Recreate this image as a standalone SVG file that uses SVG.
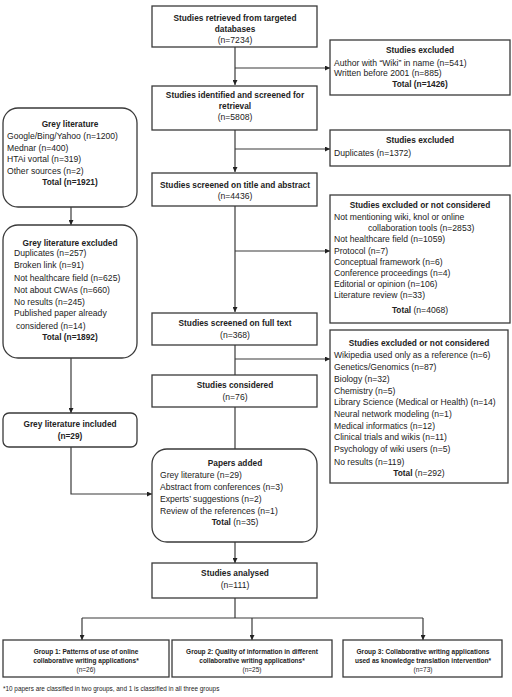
<svg xmlns="http://www.w3.org/2000/svg" width="512" height="697" viewBox="0 0 512 697">
<style>
.box{fill:#fff;stroke:#3a3a3a;stroke-width:1.3}
.t{font-family:"Liberation Sans",Arial,sans-serif;font-size:8.6px;fill:#222}
.b{font-weight:bold;font-size:8.3px}
.c{text-anchor:middle}
.g{font-family:"Liberation Sans",Arial,sans-serif;font-size:6.5px;fill:#222;text-anchor:middle}
.g.b{font-size:6.5px}
.ln{fill:none;stroke:#3a3a3a;stroke-width:1.2}
</style>
<defs>
<marker id="ah" viewBox="0 0 10 10" refX="10" refY="5" markerWidth="5" markerHeight="5" orient="auto" markerUnits="userSpaceOnUse">
<path d="M0,0L10,5L0,10z" fill="#222"/>
</marker>
</defs>
<rect width="512" height="697" fill="#fff"/>
<g id="connectors">
<path class="ln" d="M235,47V85" marker-end="url(#ah)"/>
<path class="ln" d="M235,68H330" marker-end="url(#ah)"/>
<path class="ln" d="M235,130V172" marker-end="url(#ah)"/>
<path class="ln" d="M235,149H330" marker-end="url(#ah)"/>
<path class="ln" d="M235,206V312" marker-end="url(#ah)"/>
<path class="ln" d="M235,251H330" marker-end="url(#ah)"/>
<path class="ln" d="M235,345V375"/>
<path class="ln" d="M235,359H330" marker-end="url(#ah)"/>
<path class="ln" d="M235,407V449"/>
<path class="ln" d="M71,207V225" marker-end="url(#ah)"/>
<path class="ln" d="M71,358V413" marker-end="url(#ah)"/>
<path class="ln" d="M71,447V494H152" marker-end="url(#ah)"/>
<path class="ln" d="M235,542V563" marker-end="url(#ah)"/>
<path class="ln" d="M235,598V618M82,618H423"/>
<path class="ln" d="M82,618V640" marker-end="url(#ah)"/>
<path class="ln" d="M252,618V640" marker-end="url(#ah)"/>
<path class="ln" d="M423,618V640" marker-end="url(#ah)"/>
</g>
<g id="retrieved">
<rect class="box" x="152" y="6" width="165" height="41"/>
<text class="t b c" x="235" y="21">Studies retrieved from targeted</text>
<text class="t b c" x="235" y="32">databases</text>
<text class="t c" x="235" y="43">(n=7234)</text>
</g>
<g id="identified">
<rect class="box" x="152" y="86" width="165" height="44"/>
<text class="t b c" x="235" y="98">Studies identified and screened for</text>
<text class="t b c" x="235" y="109">retrieval</text>
<text class="t c" x="235" y="120">(n=5808)</text>
</g>
<g id="title-abstract">
<rect class="box" x="152" y="173" width="165" height="33"/>
<text class="t b c" x="235" y="188">Studies screened on title and abstract</text>
<text class="t c" x="235" y="199">(n=4436)</text>
</g>
<g id="full-text">
<rect class="box" x="152" y="313" width="165" height="32"/>
<text class="t b c" x="235" y="326">Studies screened on full text</text>
<text class="t c" x="235" y="338">(n=368)</text>
</g>
<g id="considered">
<rect class="box" x="152" y="375" width="165" height="32"/>
<text class="t b c" x="235" y="388">Studies considered</text>
<text class="t c" x="235" y="400">(n=76)</text>
</g>
<g id="papers-added">
<rect class="box" x="152" y="449" width="165" height="93" rx="15"/>
<text class="t b c" x="235" y="466">Papers added</text>
<text class="t" x="160" y="478">Grey literature (n=29)</text>
<text class="t" x="160" y="490">Abstract from conferences (n=3)</text>
<text class="t" x="160" y="502">Experts’ suggestions (n=2)</text>
<text class="t" x="160" y="514">Review of the references (n=1)</text>
<text class="t c" x="235" y="525"><tspan class="b">Total</tspan> (n=35)</text>
</g>
<g id="analysed">
<rect class="box" x="152" y="563" width="165" height="35"/>
<text class="t b c" x="235" y="576">Studies analysed</text>
<text class="t c" x="235" y="588">(n=111)</text>
</g>
<g id="excluded-1">
<rect class="box" x="330" y="40" width="180" height="55"/>
<text class="t b c" x="420" y="53">Studies excluded</text>
<text class="t" x="334" y="66">Author with “Wiki” in name (n=541)</text>
<text class="t" x="334" y="76">Written before 2001 (n=885)</text>
<text class="t b c" x="420" y="87">Total (n=1426)</text>
</g>
<g id="excluded-2">
<rect class="box" x="330" y="130" width="180" height="36"/>
<text class="t b c" x="420" y="143">Studies excluded</text>
<text class="t" x="334" y="156">Duplicates (n=1372)</text>
</g>
<g id="excluded-3">
<rect class="box" x="330" y="195" width="180" height="128"/>
<text class="t b c" x="420" y="208">Studies excluded or not considered</text>
<text class="t" x="334" y="220">Not mentioning wiki, knol or online</text>
<text class="t" x="368" y="231">collaboration tools (n=2853)</text>
<text class="t" x="334" y="242">Not healthcare field (n=1059)</text>
<text class="t" x="334" y="254">Protocol (n=7)</text>
<text class="t" x="334" y="265">Conceptual framework (n=6)</text>
<text class="t" x="334" y="276">Conference proceedings (n=4)</text>
<text class="t" x="334" y="287">Editorial or opinion (n=106)</text>
<text class="t" x="334" y="298">Literature review (n=33)</text>
<text class="t c" x="420" y="313"><tspan class="b">Total</tspan> (n=4068)</text>
</g>
<g id="excluded-4">
<rect class="box" x="330" y="330" width="178" height="153"/>
<text class="t b c" x="419" y="346">Studies excluded or not considered</text>
<text class="t" x="334" y="358">Wikipedia used only as a reference (n=6)</text>
<text class="t" x="334" y="370">Genetics/Genomics (n=87)</text>
<text class="t" x="334" y="382">Biology (n=32)</text>
<text class="t" x="334" y="394">Chemistry (n=5)</text>
<text class="t" x="334" y="405">Library Science (Medical or Health) (n=14)</text>
<text class="t" x="334" y="417">Neural network modeling (n=1)</text>
<text class="t" x="334" y="429">Medical informatics (n=12)</text>
<text class="t" x="334" y="440">Clinical trials and wikis (n=11)</text>
<text class="t" x="334" y="452">Psychology of wiki users (n=5)</text>
<text class="t" x="334" y="465">No results (n=119)</text>
<text class="t c" x="419" y="476"><tspan class="b">Total</tspan> (n=292)</text>
</g>
<g id="grey-literature">
<rect class="box" x="3" y="108" width="134" height="99" rx="15"/>
<text class="t b c" x="70" y="127">Grey literature</text>
<text class="t" x="7" y="139">Google/Bing/Yahoo (n=1200)</text>
<text class="t" x="7" y="151">Mednar (n=400)</text>
<text class="t" x="7" y="162">HTAi vortal (n=319)</text>
<text class="t" x="7" y="174">Other sources (n=2)</text>
<text class="t b c" x="70" y="185">Total (n=1921)</text>
</g>
<g id="grey-excluded">
<rect class="box" x="3" y="225" width="134" height="133" rx="15"/>
<text class="t b c" x="70" y="246">Grey literature excluded</text>
<text class="t" x="14" y="256">Duplicates (n=257)</text>
<text class="t" x="14" y="268">Broken link (n=91)</text>
<text class="t" x="14" y="281">Not healthcare field (n=625)</text>
<text class="t" x="14" y="293">Not about CWAs (n=660)</text>
<text class="t" x="14" y="305">No results (n=245)</text>
<text class="t" x="14" y="316">Published paper already</text>
<text class="t" x="16" y="329">considered (n=14)</text>
<text class="t b c" x="70" y="340">Total (n=1892)</text>
</g>
<g id="grey-included">
<rect class="box" x="3" y="413" width="134" height="34" rx="6"/>
<text class="t b c" x="70" y="427">Grey literature included</text>
<text class="t b c" x="70" y="439">(n=29)</text>
</g>
<g id="group-1">
<rect class="box" x="3" y="640" width="166" height="37"/>
<text class="g b" x="86" y="654">Group 1: Patterns of use of online</text>
<text class="g b" x="86" y="663">collaborative writing applications*</text>
<text class="g" x="86" y="672">(n=26)</text>
</g>
<g id="group-2">
<rect class="box" x="172" y="640" width="160" height="37"/>
<text class="g b" x="252" y="654">Group 2: Quality of information in different</text>
<text class="g b" x="252" y="663">collaborative writing applications*</text>
<text class="g" x="252" y="672">(n=25)</text>
</g>
<g id="group-3">
<rect class="box" x="343" y="640" width="159" height="37"/>
<text class="g b" x="423" y="654">Group 3: Collaborative writing applications</text>
<text class="g b" x="423" y="663">used as knowledge translation intervention*</text>
<text class="g" x="423" y="672">(n=73)</text>
</g>
<text class="t" x="3" y="691" style="font-size:6.4px">*10 papers are classified in two groups, and 1 is classified in all three groups</text>
</svg>
